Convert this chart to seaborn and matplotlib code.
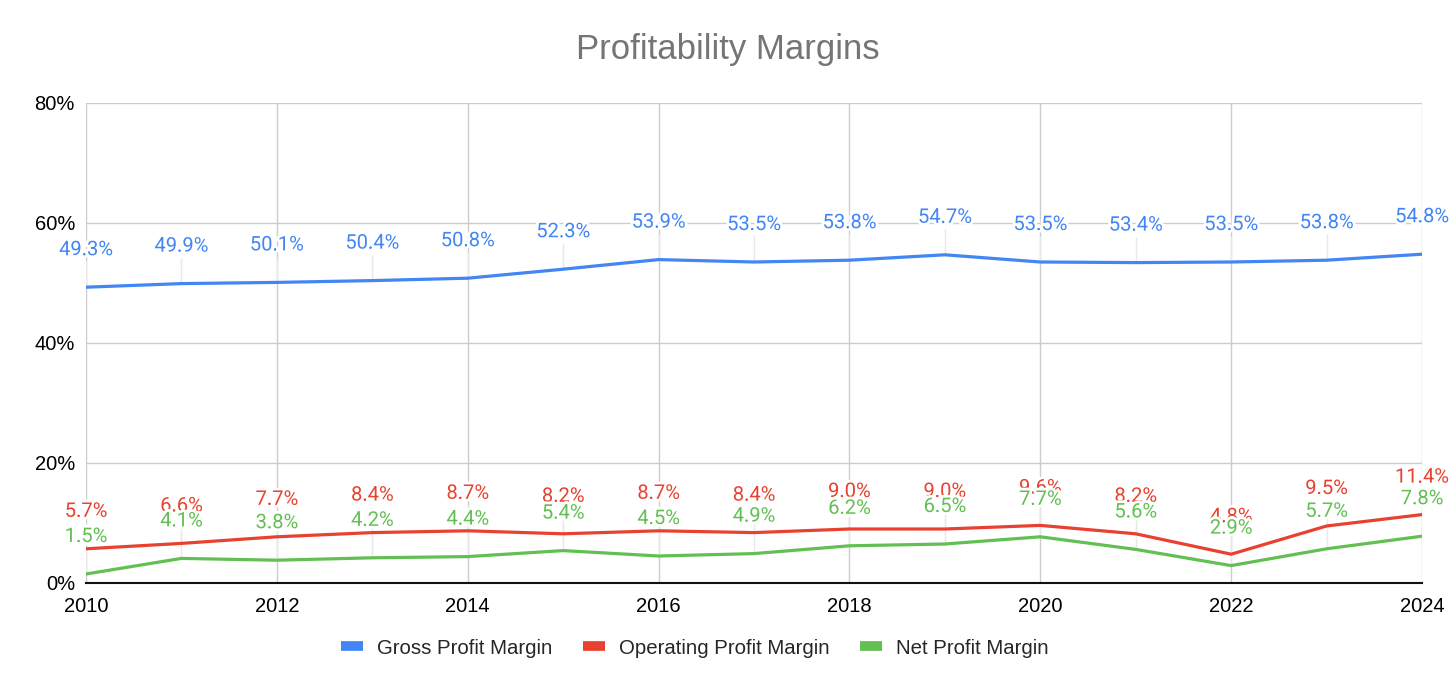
import pandas as pd
import seaborn as sns
import matplotlib.pyplot as plt
import matplotlib.patheffects as pe
from matplotlib.lines import Line2D

# Datos
years = list(range(2010, 2025))
gross = [49.3, 49.9, 50.1, 50.4, 50.8, 52.3, 53.9, 53.5, 53.8, 54.7, 53.5, 53.4, 53.5, 53.8, 54.8]
operating = [5.7, 6.6, 7.7, 8.4, 8.7, 8.2, 8.7, 8.4, 9.0, 9.0, 9.6, 8.2, 4.8, 9.5, 11.4]
net = [1.5, 4.1, 3.8, 4.2, 4.4, 5.4, 4.5, 4.9, 6.2, 6.5, 7.7, 5.6, 2.9, 5.7, 7.8]

series_names = ["Gross Profit Margin", "Operating Profit Margin", "Net Profit Margin"]
colors = ["#4285F4", "#E8412F", "#62BF52"]

df = pd.DataFrame({
    "Year": years * 3,
    "Margin": gross + operating + net,
    "Series": [s for s in series_names for _ in years],
})

sns.set_theme(style="white")
plt.rcParams["font.family"] = ["Liberation Sans", "DejaVu Sans"]

fig = plt.figure(figsize=(14.56, 6.94), dpi=100)
ax = fig.add_axes([86 / 1456, 1 - 583 / 694, 1336 / 1456, 480 / 694])

# lineas guia tenues de la etiqueta al punto
for vals in [gross, operating, net]:
    ax.vlines(years, vals, [v + 4.3 for v in vals], color="#e8e8e8", lw=1, zorder=1)

sns.lineplot(data=df, x="Year", y="Margin", hue="Series", palette=colors,
             linewidth=2.3, legend=False, ax=ax, zorder=3)

# Etiquetas de datos
for vals, c in zip([gross, operating, net], colors):
    for x, v in zip(years, vals):
        ax.annotate(f"{v:.1f}%", (x, v), xytext=(0, 27), textcoords="offset points",
                    ha="center", va="center", fontsize=14.5, color=c,
                    family=["Roboto", "DejaVu Sans"], zorder=5,
                    path_effects=[pe.withStroke(linewidth=4, foreground="white")])

ax.set_xlim(2010, 2024)
ax.set_ylim(0, 80)
ax.set_xticks(range(2010, 2025, 2))
ax.set_yticks([0, 20, 40, 60, 80])
ax.set_yticklabels(["0%", "20%", "40%", "60%", "80%"])
ax.grid(True, color="#cccccc", lw=1)
ax.set_axisbelow(True)
for s in ["top", "left", "right"]:
    ax.spines[s].set_visible(False)
ax.spines["bottom"].set_color("#111111")
ax.spines["bottom"].set_linewidth(1.5)
ax.spines["bottom"].set_zorder(4)
ax.tick_params(axis="x", length=0, pad=10, labelsize=14.5, labelcolor="black")
ax.tick_params(axis="y", length=0, pad=8, labelsize=14.5, labelcolor="black")
ax.set_xlabel("")
ax.set_ylabel("")

fig.text(0.5, 1 - 50 / 694, "Profitability Margins", ha="center", va="center",
         fontsize=25, color="#757575")

handles = [Line2D([0], [0], color=c, lw=7, solid_capstyle="butt") for c in colors]
fig.legend(handles, series_names, loc="center", bbox_to_anchor=(695 / 1456, 1 - 648 / 694),
           ncol=3, frameon=False, fontsize=14.7, handlelength=1.05, handletextpad=0.7,
           columnspacing=1.5)

plt.savefig("out.png", dpi=100)
